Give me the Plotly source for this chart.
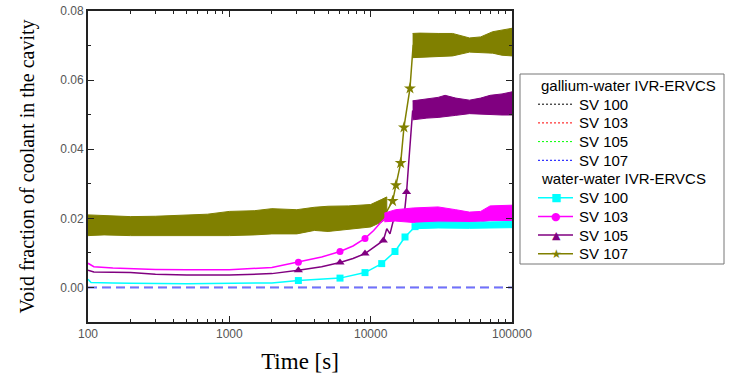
import plotly.graph_objects as go

# ---------------- data ----------------
# gallium-water IVR-ERVCS (all essentially zero)
t_ga = [100, 1000, 10000, 100000]
ga_sv100 = [0.0, 0.0, 0.0, 0.0]
ga_sv103 = [0.0, 0.0, 0.0, 0.0]
ga_sv105 = [0.0, 0.0, 0.0, 0.0]
ga_sv107 = [0.0, 0.0, 0.0, 0.0]

# water-water IVR-ERVCS : SV 100
t_w100 = [100, 105, 150, 200, 500, 1000, 2000, 3080, 6070, 9120, 11970, 14860, 17500, 20600, 30000, 50000, 70000, 100000]
w100 = [0.0024, 0.0014, 0.0013, 0.0012, 0.0011, 0.0011, 0.0013, 0.0020, 0.0027, 0.0043, 0.0069, 0.0104, 0.0146, 0.0176, 0.0180, 0.0180, 0.0181, 0.0182]
mk_w100 = [3080, 6070, 9120, 11970, 14860, 17500, 20600]
bt_w100 = [20600, 30000, 50000, 70000, 100000]
bu_w100 = [0.0186, 0.0189, 0.0188, 0.0190, 0.0191]
bl_w100 = [0.0170, 0.0172, 0.0171, 0.0172, 0.0173]

# SV 103
t_w103 = [100, 110, 150, 200, 300, 500, 1000, 2000, 3080, 4500, 6070, 7500, 9120, 10500, 11600, 12500, 13000, 20000, 30000, 50000, 70000, 100000]
w103 = [0.0070, 0.0060, 0.0056, 0.0054, 0.0052, 0.0051, 0.0051, 0.0058, 0.0073, 0.0088, 0.0104, 0.0120, 0.0142, 0.0165, 0.0185, 0.0198, 0.0205, 0.0210, 0.0210, 0.0205, 0.0212, 0.0215]
mk_w103 = [3080, 6070, 9120]
bt_w103 = [12500, 15000, 20000, 30000, 40000, 50000, 60000, 70000, 100000]
bu_w103 = [0.0215, 0.0225, 0.0230, 0.0233, 0.0225, 0.0218, 0.0220, 0.0236, 0.0238]
bl_w103 = [0.0190, 0.0192, 0.0188, 0.0189, 0.0189, 0.0189, 0.0190, 0.0193, 0.0194]

# SV 105
t_w105 = [100, 110, 150, 200, 300, 500, 1000, 2000, 3080, 4500, 6070, 7500, 9120, 10500, 12300, 13000, 13700, 14500, 16000, 17200, 17950, 18500, 19200, 19800, 30000, 50000, 70000, 100000]
w105 = [0.0050, 0.0045, 0.0044, 0.0043, 0.0038, 0.0036, 0.0036, 0.0040, 0.0050, 0.0060, 0.0072, 0.0084, 0.0098, 0.0115, 0.0136, 0.0170, 0.0155, 0.0195, 0.0197, 0.0202, 0.0276, 0.0350, 0.0440, 0.0510, 0.0520, 0.0522, 0.0528, 0.0532]
mk_w105 = [3080, 6070, 9120, 12300, 17950]
bt_w105 = [19800, 25000, 30000, 33600, 40000, 50000, 60000, 70000, 85000, 100000]
bu_w105 = [0.0540, 0.0545, 0.0550, 0.0556, 0.0548, 0.0542, 0.0548, 0.0556, 0.0560, 0.0566]
bl_w105 = [0.0485, 0.0490, 0.0492, 0.0494, 0.0498, 0.0503, 0.0502, 0.0500, 0.0499, 0.0499]

# SV 107
t_w107 = [100, 1000, 5000, 10000, 13000, 14300, 15100, 16300, 17200, 18970, 19800, 20000, 30000, 50000, 70000, 100000]
w107 = [0.0180, 0.0185, 0.0198, 0.0207, 0.0220, 0.0250, 0.0296, 0.0360, 0.0463, 0.0576, 0.0680, 0.0700, 0.0700, 0.0700, 0.0705, 0.0712]
mk_w107 = [14300, 15100, 16300, 17200, 18970]
bt1_w107 = [100, 130, 200, 300, 500, 700, 1000, 1500, 2000, 3000, 4000, 5000, 7000, 10000, 12000, 13000]
bu1_w107 = [0.0210, 0.0208, 0.0205, 0.0206, 0.0210, 0.0212, 0.0220, 0.0222, 0.0228, 0.0225, 0.0232, 0.0235, 0.0236, 0.0240, 0.0255, 0.0262]
bl1_w107 = [0.0150, 0.0152, 0.0150, 0.0148, 0.0148, 0.0150, 0.0150, 0.0152, 0.0155, 0.0155, 0.0165, 0.0162, 0.0168, 0.0175, 0.0190, 0.0200]
bt2_w107 = [19800, 22300, 30000, 38000, 50000, 60000, 73000, 85000, 100000]
bu2_w107 = [0.0735, 0.0736, 0.0735, 0.0735, 0.0722, 0.0725, 0.0740, 0.0745, 0.0750]
bl2_w107 = [0.0665, 0.0667, 0.0668, 0.0670, 0.0681, 0.0680, 0.0678, 0.0672, 0.0670]

x_ticks = [100, 1000, 10000, 100000]
x_tick_text = ["100", "1000", "10000", "100000"]
legend_groups = ["gallium-water IVR-ERVCS", "water-water IVR-ERVCS"]
legend_names = ["SV 100", "SV 103", "SV 105", "SV 107"]

# ---------------- figure ----------------
W, H = 739, 378
ML, MR, MT, MB = 88, 227, 11, 56
PW, PH = W - ML - MR, H - MT - MB

C_CYAN, C_MAG, C_PUR, C_OLI = "#00ffff", "#ff00ff", "#800080", "#808000"
fig = go.Figure()


def band(t, up, lo, color):
    fig.add_trace(go.Scatter(x=list(t) + list(t)[::-1], y=list(up) + list(lo)[::-1],
                             mode="lines", fill="toself", fillcolor=color,
                             line=dict(color=color, width=1), showlegend=False, hoverinfo="skip"))


def series(t, y, mk, color, symbol, msize):
    fig.add_trace(go.Scatter(x=t, y=y, mode="lines", line=dict(color=color, width=1.5), showlegend=False))
    mx = [tt for tt in t if tt in mk]
    my = [yy for tt, yy in zip(t, y) if tt in mk]
    fig.add_trace(go.Scatter(x=mx, y=my, mode="markers",
                             marker=dict(color=color, symbol=symbol, size=msize), showlegend=False))


band(bt1_w107, bu1_w107, bl1_w107, C_OLI)
band(bt2_w107, bu2_w107, bl2_w107, C_OLI)
series(t_w107, w107, mk_w107, C_OLI, "star", 9)
band(bt_w105, bu_w105, bl_w105, C_PUR)
series(t_w105, w105, mk_w105, C_PUR, "triangle-up", 8)
band(bt_w103, bu_w103, bl_w103, C_MAG)
series(t_w103, w103, mk_w103, C_MAG, "circle", 7)
band(bt_w100, bu_w100, bl_w100, C_CYAN)
series(t_w100, w100, mk_w100, C_CYAN, "square", 7)

for yv, col, lw in [(ga_sv100, "#000000", 0.8), (ga_sv103, "#ff0000", 0.8), (ga_sv105, "#00ff00", 0.8),
                    (ga_sv107, "#7070ff", 2)]:
    fig.add_trace(go.Scatter(x=t_ga, y=yv, mode="lines",
                             line=dict(color=col, width=lw, dash="9px,5px"), showlegend=False))

# ---------------- hand-built legend (layout only) ----------------
def px(x):
    return (x - ML) / PW


def py(y):
    return (H - MB - y) / PH


shapes = [dict(type="rect", xref="paper", yref="paper", x0=px(520), x1=px(724), y0=py(74), y1=py(264),
               line=dict(color="#777", width=1), fillcolor="white", layer="above")]
annots = []
LF = dict(family="Liberation Sans, Arial", size=15, color="#000")
row_h = 18.7
y0 = 85.5
ga_cols = ["#000000", "#ff0000", "#00ff00", "#0000ff"]
w_cols = [C_CYAN, C_MAG, C_PUR, C_OLI]
w_syms = ["\u25A0", "\u25CF", "\u25B2", "\u2605"]
row = 0
for g, gname in enumerate(legend_groups):
    yy = y0 + row * row_h
    annots.append(dict(xref="paper", yref="paper", x=px(539), y=py(yy), xanchor="left", yanchor="middle",
                       text=gname, showarrow=False, font=LF))
    row += 1
    for i, nm in enumerate(legend_names):
        yy = y0 + row * row_h
        if g == 0:
            shapes.append(dict(type="line", xref="paper", yref="paper", x0=px(538), x1=px(573), y0=py(yy), y1=py(yy),
                               line=dict(color=ga_cols[i], width=1, dash="2px,2px"), layer="above"))
        else:
            shapes.append(dict(type="line", xref="paper", yref="paper", x0=px(538), x1=px(573), y0=py(yy), y1=py(yy),
                               line=dict(color=w_cols[i], width=1.5), layer="above"))
            annots.append(dict(xref="paper", yref="paper", x=px(556), y=py(yy), xanchor="center", yanchor="middle",
                               text=w_syms[i], showarrow=False,
                               font=dict(family="DejaVu Sans", size=11 if i != 3 else 12, color=w_cols[i])))
        annots.append(dict(xref="paper", yref="paper", x=px(577), y=py(yy), xanchor="left", yanchor="middle",
                           text=nm, showarrow=False, font=LF))
        row += 1

minor_x = [m * 10 ** k for k in range(2, 5) for m in range(2, 10)]

fig.update_layout(
    width=W, height=H,
    margin=dict(l=ML, r=MR, t=MT, b=MB, autoexpand=False),
    paper_bgcolor="white", plot_bgcolor="white",
    font=dict(family="Liberation Sans, Arial", size=12, color="#444"),
    showlegend=False,
    shapes=shapes, annotations=annots,
    xaxis=dict(type="log", range=[2, 5], tickmode="array", tickvals=x_ticks, ticktext=x_tick_text,
               ticks="inside", ticklen=6, tickwidth=1, tickcolor="#222",
               minor=dict(tickmode="array", tickvals=minor_x, ticks="inside", ticklen=3, tickcolor="#222"),
               showline=True, linecolor="#222", linewidth=2, mirror="allticks",
               showgrid=False, zeroline=False, automargin=False,
               tickfont=dict(size=12, color="#555"),
               title=dict(text="Time [s]", font=dict(family="Liberation Serif, Times New Roman", size=23, color="#000"),
                          standoff=12)),
    yaxis=dict(range=[-0.01, 0.08], tickmode="linear", tick0=0, dtick=0.02, tickformat=".2f",
               ticks="inside", ticklen=6, tickwidth=1, tickcolor="#222",
               minor=dict(dtick=0.01, ticks="inside", ticklen=3, tickcolor="#222"),
               showline=True, linecolor="#222", linewidth=2, mirror="allticks",
               showgrid=False, zeroline=False, automargin=False,
               tickfont=dict(size=12, color="#555"),
               title=dict(text="Void fraction of coolant in the cavity",
                          font=dict(family="Liberation Serif, Times New Roman", size=20, color="#000"),
                          standoff=20)),
)

fig.write_html("out.html")
